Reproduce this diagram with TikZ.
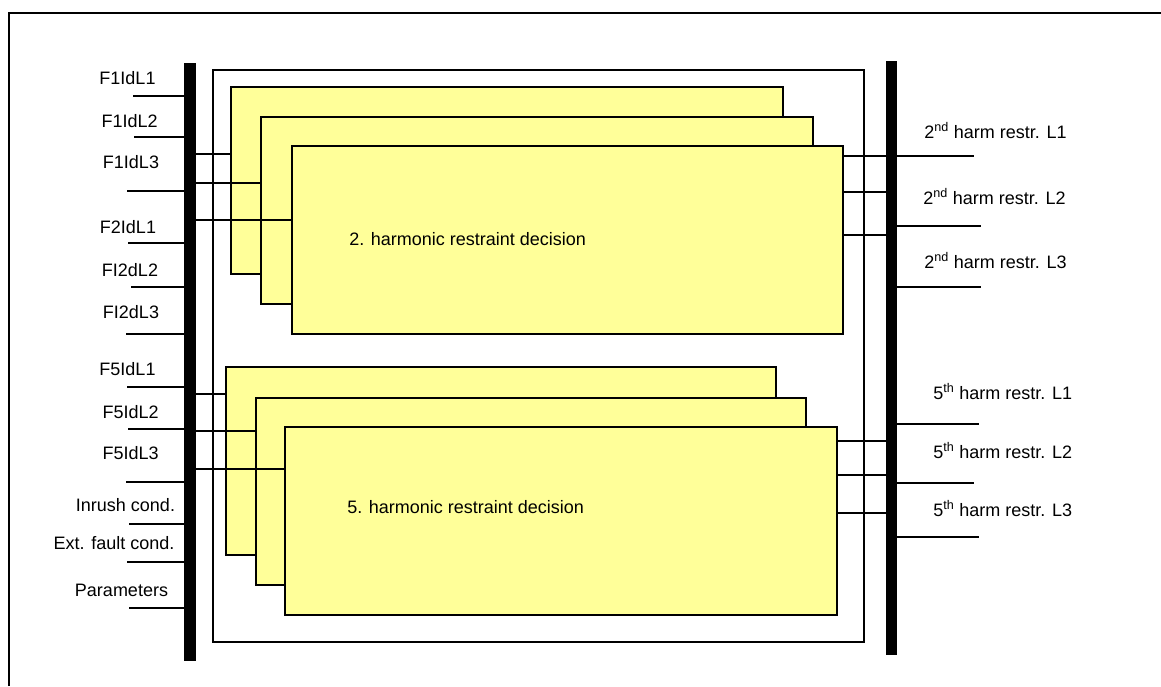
\documentclass[tikz,border=0pt]{standalone}
\usepackage{fontspec}
\setmainfont{Liberation Sans}
\usetikzlibrary{fit}
\definecolor{blockyellow}{RGB}{255,255,153}
\begin{document}
\begin{tikzpicture}[x=0.75pt,y=-0.75pt,
  every node/.style={font=\fontsize{13.5}{16}\selectfont, inner sep=0pt},
  blk/.style={draw=black, fill=blockyellow, line width=1.1pt, inner sep=0pt},
  bus/.style={fill=black, draw=none, inner sep=0pt},
  conn/.style={line width=0.8pt},
  lbl/.style={anchor=base},
  rlbl/.style={anchor=base west},
  btxt/.style={anchor=base west}]
\useasboundingbox (0,0) rectangle (1161,686);
% outer frame (top and left edges visible)
\draw[line width=1.3pt] (9,686) -- (9,13) -- (1161,13);
% inner frame
\node[draw=black, line width=0.9pt, fit={(213,70) (864,642)}, inner sep=0pt] (frame) {};
% buses
\node[bus, fit={(184,63) (196,661)}] (lbus) {};
\node[bus, fit={(886,61) (897,655)}] (rbus) {};
% blocks 2nd harmonic
\node[blk, fit={(231,87) (783,274)}] (A1) {};
\node[blk, fit={(261,117) (813,304)}] (A2) {};
\node[blk, fit={(292,146) (843,334)}] (A3) {};
\node[btxt] (ta) at (349,245) {2. harmonic restraint decision};
% blocks 5th harmonic
\node[blk, fit={(226,367) (776,555)}] (B1) {};
\node[blk, fit={(256,398) (806,585)}] (B2) {};
\node[blk, fit={(285,427) (837,615)}] (B3) {};
\node[btxt] (tb) at (347,513) {5. harmonic restraint decision};
% connectors bus -> blocks
\draw[conn] (lbus.east |- {(0,154)}) -- (A1.west |- {(0,154)});
\draw[conn] (lbus.east |- {(0,183)}) -- (A2.west |- {(0,183)});
\draw[conn] (lbus.east |- {(0,220)}) -- (A3.west |- {(0,220)});
\draw[conn] (lbus.east |- {(0,394)}) -- (B1.west |- {(0,394)});
\draw[conn] (lbus.east |- {(0,431)}) -- (B2.west |- {(0,431)});
\draw[conn] (lbus.east |- {(0,469)}) -- (B3.west |- {(0,469)});
% connectors blocks -> right bus
\draw[conn] (A3.east |- {(0,156)}) -- (rbus.west |- {(0,156)});
\draw[conn] (A3.east |- {(0,192)}) -- (rbus.west |- {(0,192)});
\draw[conn] (A3.east |- {(0,235)}) -- (rbus.west |- {(0,235)});
\draw[conn] (B3.east |- {(0,441)}) -- (rbus.west |- {(0,441)});
\draw[conn] (B3.east |- {(0,475)}) -- (rbus.west |- {(0,475)});
\draw[conn] (B3.east |- {(0,513)}) -- (rbus.west |- {(0,513)});
% left inputs
\coordinate (i1) at (133,96);
\coordinate (i2) at (134,137);
\coordinate (i3) at (127,191);
\coordinate (i4) at (128,243);
\coordinate (i5) at (131,287);
\coordinate (i6) at (126,334);
\coordinate (i7) at (127,387);
\coordinate (i8) at (128,429);
\coordinate (i9) at (126,482);
\coordinate (i10) at (129,524);
\coordinate (i11) at (127,562);
\coordinate (i12) at (129,608);
\foreach \i in {1,...,12} {\draw[conn] (i\i) -- (lbus.west |- i\i);}
\node[lbl] (l1) at (127.5,84) {F1IdL1};
\node[lbl] (l2) at (129.7,127) {F1IdL2};
\node[lbl] (l3) at (131,168) {F1IdL3};
\node[lbl] (l4) at (128,233) {F2IdL1};
\node[lbl] (l5) at (130,276) {FI2dL2};
\node[lbl] (l6) at (131,318) {FI2dL3};
\node[lbl] (l7) at (127.5,375) {F5IdL1};
\node[lbl] (l8) at (130.7,418) {F5IdL2};
\node[lbl] (l9) at (130.7,459) {F5IdL3};
\node[lbl] (l10) at (125.5,511) {Inrush cond.};
\node[lbl] (l11) at (114,549) {Ext. fault cond.};
\node[lbl] (l12) at (121.5,596) {Parameters};
% right outputs
\coordinate (o1) at (974,156);
\coordinate (o2) at (981,226);
\coordinate (o3) at (981,287);
\coordinate (o4) at (979,424);
\coordinate (o5) at (974,483);
\coordinate (o6) at (979,537);
\foreach \i in {1,...,6} {\draw[conn] (rbus.east |- o\i) -- (o\i);}
\node[rlbl] (r1) at (924,138) {2\textsuperscript{nd} harm restr. L1};
\node[rlbl] (r2) at (923,204) {2\textsuperscript{nd} harm restr. L2};
\node[rlbl] (r3) at (924,268) {2\textsuperscript{nd} harm restr. L3};
\node[rlbl] (r4) at (933,399) {5\textsuperscript{th} harm restr. L1};
\node[rlbl] (r5) at (933,458) {5\textsuperscript{th} harm restr. L2};
\node[rlbl] (r6) at (933,516) {5\textsuperscript{th} harm restr. L3};
\end{tikzpicture}
\end{document}
